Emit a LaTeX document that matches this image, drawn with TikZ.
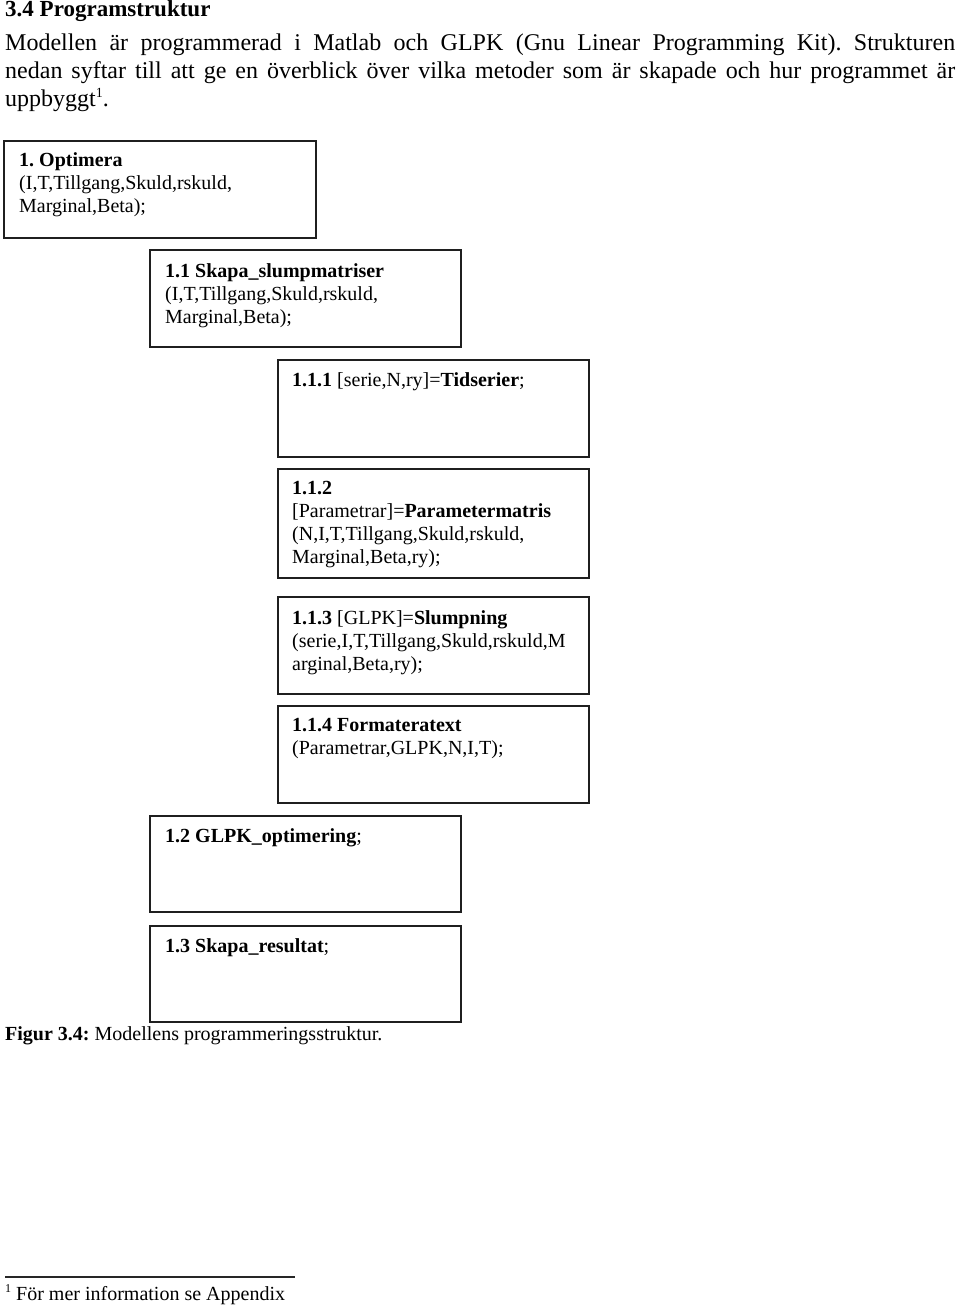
\documentclass[tikz,border=0pt]{standalone}
\usepackage{fontspec}
\setmainfont{Liberation Serif}
\frenchspacing
\begin{document}
\begin{tikzpicture}[x=1pt,y=-1pt,
  box/.style={draw=black!88,line width=1.8pt,rectangle,inner sep=0pt,outer sep=0pt},
  boxtext/.style={anchor=north west,inner sep=0pt,align=left,text=black,font=\fontsize{20}{23}\selectfont},
  bodytext/.style={anchor=base west,inner sep=0pt,text=black,font=\fontsize{24}{28}\selectfont},
  smalltext/.style={anchor=base west,inner sep=0pt,text=black,font=\fontsize{20}{23}\selectfont}]
\useasboundingbox (0,0) rectangle (960,1312);
% heading and body
\node[anchor=base west,inner sep=0pt,font=\fontsize{23}{27}\selectfont\bfseries] (head) at (5,16) {3.4 Programstruktur};
\node[bodytext] (l1) at (5,50) {\makebox[950pt][s]{Modellen är programmerad i Matlab och GLPK (Gnu Linear Programming Kit). Strukturen}};
\node[bodytext] (l2) at (5,78) {\makebox[950pt][s]{nedan syftar till att ge en överblick över vilka metoder som är skapade och hur programmet är}};
\node[bodytext] (l3) at (5,106) {uppbyggt\raisebox{9pt}{\fontsize{14}{16}\selectfont 1}.};
% boxes
\node[box,minimum width=312pt,minimum height=97pt,anchor=north west] (b1) at (4,141) {};
\node[box,minimum width=311pt,minimum height=97pt,anchor=north west] (b11) at (150,250) {};
\node[box,minimum width=311pt,minimum height=97pt,anchor=north west] (b111) at (278,360) {};
\node[box,minimum width=311pt,minimum height=109pt,anchor=north west] (b112) at (278,469) {};
\node[box,minimum width=311pt,minimum height=97pt,anchor=north west] (b113) at (278,597) {};
\node[box,minimum width=311pt,minimum height=97pt,anchor=north west] (b114) at (278,706) {};
\node[box,minimum width=311pt,minimum height=96pt,anchor=north west] (b12) at (150,816) {};
\node[box,minimum width=311pt,minimum height=96pt,anchor=north west] (b13) at (150,926) {};
% box texts (top = first baseline - 16.1)
\node[boxtext] (t1) at (19,149.9) {\strut\textbf{1. Optimera}\\(I,T,Tillgang,Skuld,rskuld,\\Marginal,Beta);};
\node[boxtext] (t11) at (165,260.9) {\strut\textbf{1.1 Skapa\_slumpmatriser}\\(I,T,Tillgang,Skuld,rskuld,\\Marginal,Beta);};
\node[boxtext] (t111) at (292,369.9) {\strut\textbf{1.1.1} [serie,N,ry]=\textbf{Tidserier};};
\node[boxtext] (t112) at (292,477.9) {\strut\textbf{1.1.2}\\{}[Parametrar]=\textbf{Parametermatris}\\(N,I,T,Tillgang,Skuld,rskuld,\\Marginal,Beta,ry);};
\node[boxtext] (t113) at (292,607.9) {\strut\textbf{1.1.3} [GLPK]=\textbf{Slumpning}\\(serie,I,T,Tillgang,Skuld,rskuld,M\\arginal,Beta,ry);};
\node[boxtext] (t114) at (292,714.9) {\strut\textbf{1.1.4 Formateratext}\\(Parametrar,GLPK,N,I,T);};
\node[boxtext] (t12) at (165,825.9) {\strut\textbf{1.2 GLPK\_optimering};};
\node[boxtext] (t13) at (165,935.9) {\strut\textbf{1.3 Skapa\_resultat};};
% caption
\node[smalltext] (cap) at (5,1040) {\textbf{Figur 3.4:} Modellens programmeringsstruktur.};
% footnote
\coordinate (fa) at (5,1277);
\coordinate (fb) at (295,1277);
\draw[line width=1.2pt,black!85] (fa) -- (fb);
\node[smalltext] (fnm) at (5,1300) {\raisebox{8pt}{\fontsize{12}{14}\selectfont 1}};
\node[smalltext] (fn) at (16,1300) {För mer information se Appendix};
\end{tikzpicture}
\end{document}
